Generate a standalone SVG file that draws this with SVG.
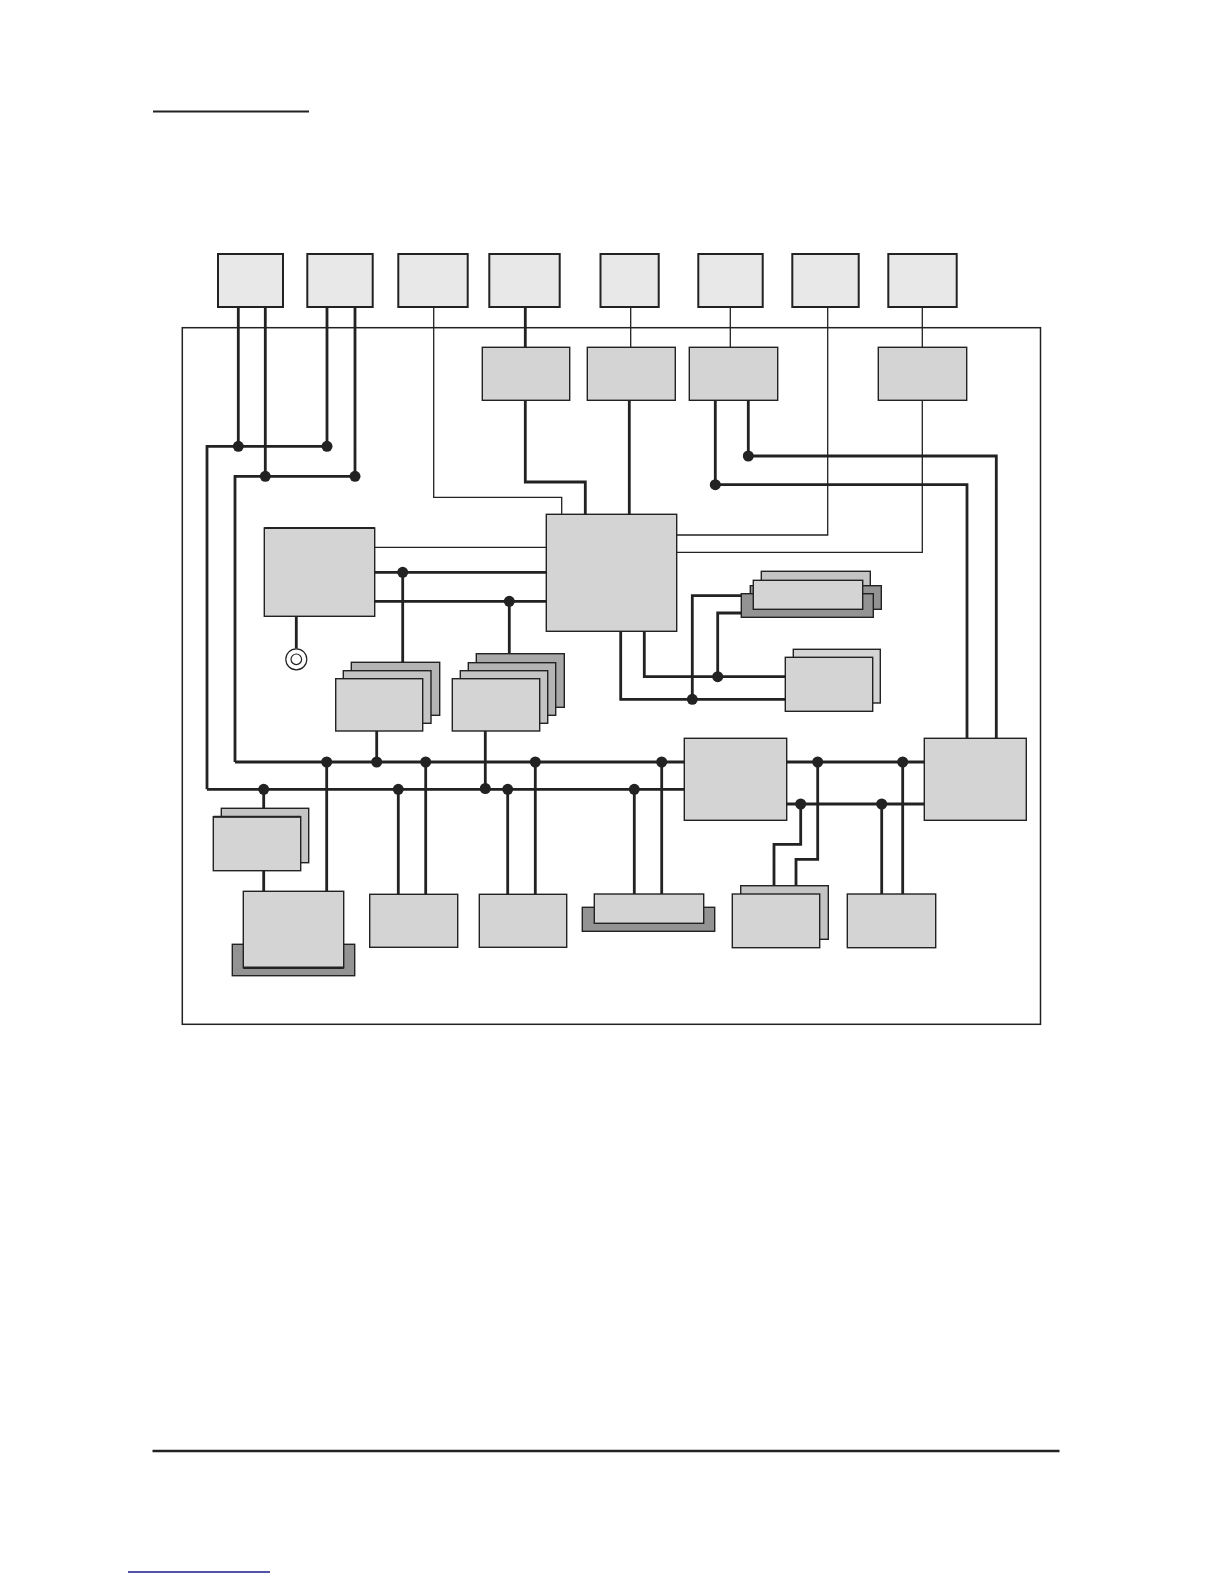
<svg xmlns="http://www.w3.org/2000/svg" width="1224" height="1584" viewBox="0 0 1224 1584">
<style>
.top{fill:#e8e8e8;stroke:#222;stroke-width:2}
.box{fill:#d4d4d4;stroke:#222;stroke-width:1.4}
.mid{fill:#c4c4c4;stroke:#222;stroke-width:1.4}
.mid2{fill:#b4b4b4;stroke:#222;stroke-width:1.4}
.back{fill:#a8a8a8;stroke:#222;stroke-width:1.4}
.dark{fill:#939393;stroke:#222;stroke-width:1.4}
.thick{fill:none;stroke:#222;stroke-width:2.8}
.thin{fill:none;stroke:#222;stroke-width:1.3}
.dot{fill:#222}
</style>
<rect width="1224" height="1584" fill="#fff"/>
<line x1="153" y1="111.5" x2="309" y2="111.5" stroke="#222" stroke-width="1.8"/>
<line x1="152.5" y1="1451" x2="1059.5" y2="1451" stroke="#222" stroke-width="2.4"/>
<line x1="128" y1="1572" x2="270" y2="1572" stroke="#1a1a8c" stroke-width="1.5"/>
<rect id="frame" x="182.3" y="327.7" width="858.2" height="696.6" fill="none" stroke="#222" stroke-width="1.5"/>

<g id="connectors">
<path class="thick" d="M238.3,307V446.3M265.3,307V476.3M327,307V446.3M355,307V476.3M327,446.3H207V789.3M355,476.3H235V762M235,762H684.3M207,789.3H684.3M525.3,307V347.3M525.3,400.3V482H585.3V514.3M629.3,400.3V514.3M748.3,400.3V456H996.3V738.3M715.3,400.3V484.7H967V738.3M374.7,572.3H546.3M374.7,601.3H546.3M402.7,572.3V662.3M509.3,601.3V653.7M296.3,616.3V648.6M620.7,631.3V699.3H785.3M644.3,631.3V676.7H785.3M692.3,699.3V595.7H741.3M717.7,676.7V613H741.3M376.7,731V762M485.3,731V789.3M263.7,789.3V808.3M263.7,870.7V891.3M326.7,762V891.3M398.3,789.3V894.3M425.7,762V894.3M507.7,789.3V894.3M535.3,762V894.3M634.3,789.3V894M661.7,762V894M786.7,762H924.3M786.7,804H924.3M800.7,804V844.3H774V885.7M817.7,762V859.3H796V885.7M881.7,804V894M902.7,762V894"/>
<path class="thin" d="M433.7,307V497.3H561.7V514.3M630.7,307V347.3M730.3,307V347.3M827.7,307V535H676.7M922.3,307V347.3M922.3,400.3V552.3H676.7M374.7,547.3H546.3"/>
<g class="dot">
<circle cx="238.3" cy="446.3" r="5.5"/><circle cx="327" cy="446.3" r="5.5"/><circle cx="265.3" cy="476.3" r="5.5"/><circle cx="355" cy="476.3" r="5.5"/>
<circle cx="748.3" cy="456" r="5.5"/><circle cx="715.3" cy="484.7" r="5.5"/><circle cx="402.7" cy="572.3" r="5.5"/><circle cx="509.3" cy="601.3" r="5.5"/>
<circle cx="717.7" cy="676.7" r="5.5"/><circle cx="692.3" cy="699.3" r="5.5"/>
<circle cx="326.7" cy="762" r="5.5"/><circle cx="376.7" cy="762" r="5.5"/><circle cx="425.7" cy="762" r="5.5"/><circle cx="535.3" cy="762" r="5.5"/><circle cx="661.7" cy="762" r="5.5"/>
<circle cx="263.7" cy="789.3" r="5.5"/><circle cx="398.3" cy="789.3" r="5.5"/><circle cx="485.3" cy="788.5" r="5.5"/><circle cx="507.7" cy="789.3" r="5.5"/><circle cx="634.3" cy="789.3" r="5.5"/>
<circle cx="817.7" cy="762" r="5.5"/><circle cx="902.7" cy="762" r="5.5"/><circle cx="800.7" cy="804" r="5.5"/><circle cx="881.7" cy="804" r="5.5"/>
</g>
</g>

<g id="top1"><rect class="top" x="218" y="254" width="65" height="53"/></g>
<g id="top2"><rect class="top" x="307.3" y="254" width="65.4" height="53"/></g>
<g id="top3"><rect class="top" x="398.3" y="254" width="69.4" height="53"/></g>
<g id="top4"><rect class="top" x="489.3" y="254" width="70.4" height="53"/></g>
<g id="top5"><rect class="top" x="600.5" y="254" width="58.2" height="53"/></g>
<g id="top6"><rect class="top" x="698.3" y="254" width="64.4" height="53"/></g>
<g id="top7"><rect class="top" x="792.3" y="254" width="66.4" height="53"/></g>
<g id="top8"><rect class="top" x="888.3" y="254" width="68.4" height="53"/></g>

<g id="boxA"><rect class="box" x="482.3" y="347.3" width="87.4" height="53"/></g>
<g id="boxB"><rect class="box" x="587.3" y="347.3" width="88" height="53"/></g>
<g id="boxC"><rect class="box" x="689.3" y="347.3" width="88.4" height="53"/></g>
<g id="boxD"><rect class="box" x="878.3" y="347.3" width="88.4" height="53"/></g>

<g id="boxE"><rect class="box" x="264.3" y="528" width="110.4" height="88.3"/><line x1="264.3" y1="528" x2="374.7" y2="528" stroke="#222" stroke-width="2"/></g>
<g id="antenna"><circle cx="296.3" cy="659.3" r="10.5" fill="#fff" stroke="#222" stroke-width="1.2"/><circle cx="296.3" cy="659.3" r="5.3" fill="#fff" stroke="#222" stroke-width="1.2"/></g>
<g id="cpu"><rect class="box" x="546.3" y="514.3" width="130.4" height="117"/></g>

<g id="stack1">
<rect class="mid2" x="351.3" y="662.3" width="88.4" height="53"/>
<rect class="mid" x="343.3" y="670.7" width="87.7" height="52.6"/>
<rect class="box" x="335.7" y="678.7" width="87" height="52.3"/>
</g>
<g id="stack2">
<rect class="back" x="476.3" y="653.7" width="88" height="53.6"/>
<rect class="mid2" x="468.3" y="662.7" width="87.4" height="52.6"/>
<rect class="mid" x="460.3" y="670.7" width="87.4" height="52.6"/>
<rect class="box" x="452.3" y="678.7" width="87.4" height="52.3"/>
</g>

<g id="connTop">
<rect class="mid" x="761.3" y="571.3" width="109" height="30"/>
<rect class="dark" x="750.3" y="585.7" width="131" height="23.6"/>
<rect class="dark" x="741.3" y="593.7" width="132" height="23.6"/>
<rect class="box" x="753.3" y="580.3" width="109.4" height="29"/>
</g>
<g id="boxF">
<rect class="box" x="793.3" y="649.3" width="87" height="53.7" fill="#d8d8d8"/>
<rect class="box" x="785.3" y="657.3" width="87.4" height="54"/>
</g>

<g id="boxG"><rect class="box" x="684.3" y="738.3" width="102.4" height="82"/></g>
<g id="boxH"><rect class="box" x="924.3" y="738.3" width="102" height="82"/></g>

<g id="boxL">
<rect class="mid" x="221.3" y="808.3" width="87.4" height="54.4"/>
<rect class="box" x="213.3" y="816.7" width="87.4" height="54"/>
<line x1="213.3" y1="816.7" x2="300.7" y2="816.7" stroke="#222" stroke-width="2"/>
</g>
<g id="boxM">
<rect class="dark" x="232.3" y="944.3" width="122.4" height="31.4"/>
<rect class="box" x="243.3" y="891.3" width="100.4" height="76.4"/>
<line x1="243.3" y1="967.7" x2="343.7" y2="967.7" stroke="#222" stroke-width="2.4"/>
</g>
<g id="boxN"><rect class="box" x="369.7" y="894.3" width="88" height="53"/></g>
<g id="boxO"><rect class="box" x="479.3" y="894.3" width="87.4" height="53"/></g>
<g id="boxI">
<rect class="dark" x="582.3" y="907.3" width="132.4" height="24"/>
<rect class="box" x="594.3" y="894" width="109.4" height="29.3"/>
</g>
<g id="boxJ">
<rect class="mid" x="740.7" y="885.7" width="87.6" height="53.6" stroke-width="2.4"/>
<rect class="box" x="732.3" y="894" width="87.4" height="53.7"/>
</g>
<g id="boxK"><rect class="box" x="847.3" y="894" width="88.4" height="53.7"/></g>
</svg>
